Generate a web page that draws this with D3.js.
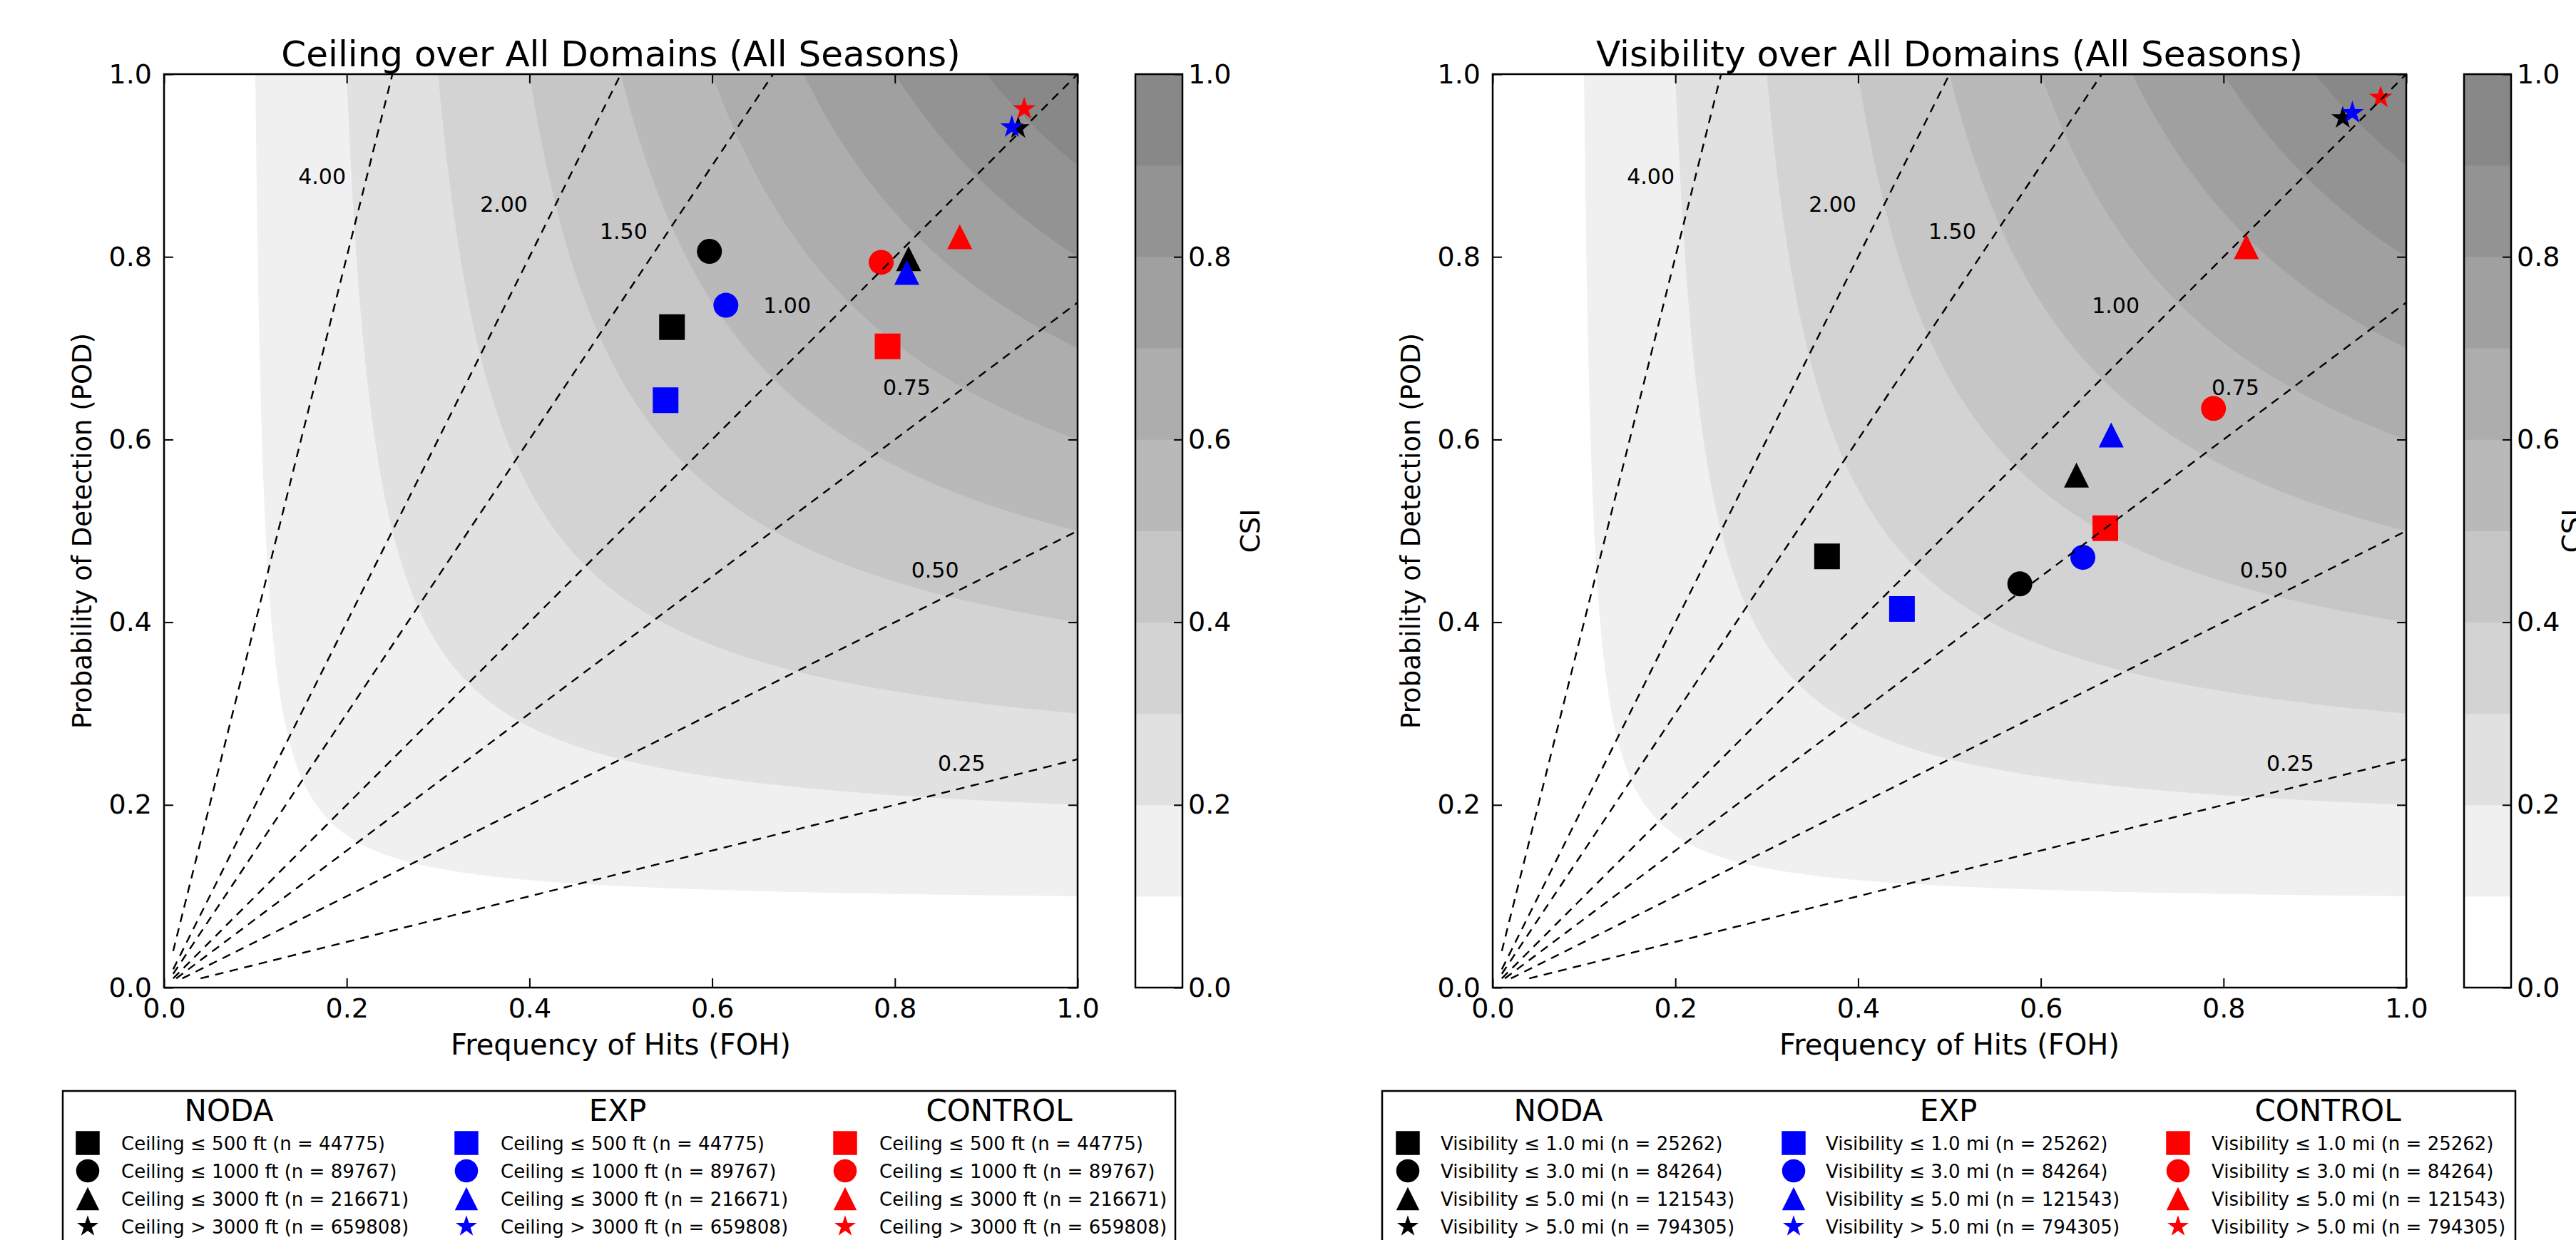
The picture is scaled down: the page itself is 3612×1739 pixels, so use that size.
<!DOCTYPE html>
<html><head><meta charset="utf-8">
<script src="https://cdn.jsdelivr.net/npm/d3@7"></script>
<style>
html,body{margin:0;padding:0;background:#fff;overflow:hidden;}
svg{display:block;font-family:"DejaVu Sans",sans-serif;}
</style></head><body>
<svg id="chart" width="3612" height="1739"></svg>
<script>
// ---------------- data ----------------
const groups = ["NODA", "EXP", "CONTROL"];
const shapes = ["square", "circle", "triangle", "star"];
const ceilingLabels = ["Ceiling \u2264 500 ft (n = 44775)", "Ceiling \u2264 1000 ft (n = 89767)", "Ceiling \u2264 3000 ft (n = 216671)", "Ceiling > 3000 ft (n = 659808)"];
const visibilityLabels = ["Visibility \u2264 1.0 mi (n = 25262)", "Visibility \u2264 3.0 mi (n = 84264)", "Visibility \u2264 5.0 mi (n = 121543)", "Visibility > 5.0 mi (n = 794305)"];

// Ceiling panel: FOH (x) and POD (y) per group, in shape order
const ceilNodaFOH = [0.556, 0.597, 0.815, 0.935];
const ceilNodaPOD = [0.723, 0.806, 0.798, 0.941];
const ceilExpFOH  = [0.549, 0.615, 0.813, 0.928];
const ceilExpPOD  = [0.643, 0.747, 0.783, 0.942];
const ceilCtrlFOH = [0.792, 0.785, 0.871, 0.9415];
const ceilCtrlPOD = [0.702, 0.794, 0.822, 0.962];

// Visibility panel
const visNodaFOH = [0.366, 0.577, 0.639, 0.9305];
const visNodaPOD = [0.472, 0.442, 0.561, 0.952];
const visExpFOH  = [0.448, 0.646, 0.677, 0.941];
const visExpPOD  = [0.4145, 0.471, 0.605, 0.9576];
const visCtrlFOH = [0.6706, 0.789, 0.825, 0.972];
const visCtrlPOD = [0.503, 0.634, 0.811, 0.9745];

const biasValues = [0.25, 0.5, 0.75, 1.0, 1.5, 2.0, 4.0];
const biasLabels = ["0.25", "0.50", "0.75", "1.00", "1.50", "2.00", "4.00"];
const csiLevels = [0.0, 0.1, 0.2, 0.3, 0.4, 0.5, 0.6, 0.7, 0.8, 0.9, 1.0];
const axisTicks = [0.0, 0.2, 0.4, 0.6, 0.8, 1.0];
const tickLabels = ["0.0", "0.2", "0.4", "0.6", "0.8", "1.0"];

// ---------------- styles / layout ----------------
const bandColors = ["#ffffff", "#f0f0f0", "#e1e1e1", "#d3d3d3", "#c6c6c6", "#b9b9b9", "#adadad", "#a0a0a0", "#939393", "#888888"];
const groupColors = ["#000000", "#0000ff", "#ff0000"];
const biasLabelPos = [[0.873, 0.246], [0.844, 0.457], [0.813, 0.657], [0.682, 0.747], [0.503, 0.828], [0.372, 0.858], [0.173, 0.888]];
const AX = {top: 104, size: 1281};
const CB = {w: 66};

const panels = [
  {title: "Ceiling over All Domains (All Seasons)", x0: 230, cbx: 1592, csiX: 1753, labels: ceilingLabels,
   foh: [ceilNodaFOH, ceilExpFOH, ceilCtrlFOH], pod: [ceilNodaPOD, ceilExpPOD, ceilCtrlPOD],
   legend: {x: 88, w: 1560, hx: [321, 866, 1401], mx: [123, 654, 1185], tx: [170, 702, 1233]}},
  {title: "Visibility over All Domains (All Seasons)", x0: 2093, cbx: 3455, csiX: 3606, labels: visibilityLabels,
   foh: [visNodaFOH, visExpFOH, visCtrlFOH], pod: [visNodaPOD, visExpPOD, visCtrlPOD],
   legend: {x: 1938, w: 1589, hx: [2185, 2732, 3264], mx: [1974, 2515, 3054], tx: [2020, 2560, 3101]}}
];

const svg = d3.select("#chart");
svg.append("rect").attr("width", 3612).attr("height", 1739).attr("fill", "#fff");

function markerPath(shape, s) {
  if (shape === "square") return d3.symbol(d3.symbolSquare, s * s)();
  if (shape === "circle") return d3.symbol(d3.symbolCircle, Math.PI * (s / 2) * (s / 2))();
  if (shape === "star") return d3.symbol(d3.symbolStar, (s / 2) * (s / 2) / 0.8908130915292852)();
  return `M0,${-s / 2}L${s / 2},${s / 2}L${-s / 2},${s / 2}Z`;
}
const markerSize = {square: 36, circle: 35, triangle: 35, star: 34};

// CSI grid for contourf
const N = 501;
const csiGrid = new Float64Array(N * N);
for (let j = 0; j < N; j++) {
  const pod = j / (N - 1);
  for (let i = 0; i < N; i++) {
    const sr = i / (N - 1);
    csiGrid[j * N + i] = (sr <= 0 || pod <= 0) ? 0 : 1 / (1 / sr + 1 / pod - 1);
  }
}
const contourSets = d3.contours().size([N, N]).thresholds(csiLevels.slice(1, 10))(csiGrid);

panels.forEach((p, pi) => {
  const x = d3.scaleLinear().domain([0, 1]).range([p.x0, p.x0 + AX.size]);
  const y = d3.scaleLinear().domain([0, 1]).range([AX.top + AX.size, AX.top]);
  const g = svg.append("g");

  const clipId = "clip" + pi;
  svg.append("defs").append("clipPath").attr("id", clipId)
    .append("rect").attr("x", p.x0).attr("y", AX.top).attr("width", AX.size).attr("height", AX.size);

  const plot = g.append("g").attr("clip-path", `url(#${clipId})`);
  plot.append("rect").attr("x", p.x0).attr("y", AX.top).attr("width", AX.size).attr("height", AX.size).attr("fill", bandColors[0]);
  const proj = d3.geoTransform({point: function (px, py) {
    this.stream.point(x((px - 0.5) / (N - 1)), y((py - 0.5) / (N - 1)));
  }});
  const path = d3.geoPath(proj);
  plot.selectAll("path.band").data(contourSets).join("path")
    .attr("class", "band").attr("d", path)
    .attr("fill", (d, i) => bandColors[i + 1]).attr("stroke", "none");

  // markers
  groups.forEach((gr, gi) => {
    shapes.forEach((sh, si) => {
      plot.append("path")
        .attr("d", markerPath(sh, markerSize[sh]))
        .attr("transform", `translate(${x(p.foh[gi][si])},${y(p.pod[gi][si])})`)
        .attr("fill", groupColors[gi]).attr("stroke", "none");
    });
  });

  // bias lines
  const line = d3.line().x(d => x(d[0])).y(d => y(d[1]));
  biasValues.forEach(b => {
    const start = b >= 1 ? [0.01, 0.01 * b] : [0.01 / b, 0.01];
    const end = b >= 1 ? [1 / b, 1] : [1, b];
    plot.append("path").attr("d", line([start, end]))
      .attr("fill", "none").attr("stroke", "#000").attr("stroke-width", 2.4)
      .attr("stroke-dasharray", "12,9");
  });
  biasLabels.forEach((lb, i) => {
    plot.append("text").attr("x", x(biasLabelPos[i][0])).attr("y", y(biasLabelPos[i][1]))
      .attr("dy", "0.36em").attr("text-anchor", "middle").attr("font-size", 30).attr("fill", "#000").text(lb);
  });

  // axes
  const fmt = (d) => tickLabels[axisTicks.indexOf(d)];
  const styleAxis = (sel, fs) => {
    sel.select(".domain").remove();
    sel.selectAll(".tick line").attr("stroke", "#000").attr("stroke-width", 2);
    sel.selectAll(".tick text").attr("font-size", fs).attr("fill", "#000").attr("font-family", "DejaVu Sans");
  };
  g.append("g").attr("transform", `translate(0,${AX.top + AX.size})`)
    .call(d3.axisBottom(x).tickValues(axisTicks).tickFormat(fmt).tickSizeInner(-13).tickSizeOuter(0).tickPadding(15))
    .call(s => styleAxis(s, 38));
  g.append("g").attr("transform", `translate(0,${AX.top})`)
    .call(d3.axisTop(x).tickValues(axisTicks).tickFormat("").tickSizeInner(-13).tickSizeOuter(0))
    .call(s => styleAxis(s, 38));
  g.append("g").attr("transform", `translate(${p.x0},0)`)
    .call(d3.axisLeft(y).tickValues(axisTicks).tickFormat(fmt).tickSizeInner(-13).tickSizeOuter(0).tickPadding(17))
    .call(s => styleAxis(s, 38));
  g.append("g").attr("transform", `translate(${p.x0 + AX.size},0)`)
    .call(d3.axisRight(y).tickValues(axisTicks).tickFormat("").tickSizeInner(-13).tickSizeOuter(0))
    .call(s => styleAxis(s, 38));
  g.append("rect").attr("x", p.x0).attr("y", AX.top).attr("width", AX.size).attr("height", AX.size)
    .attr("fill", "none").attr("stroke", "#000").attr("stroke-width", 2.5);

  g.append("text").attr("x", x(0.5)).attr("y", 93).attr("text-anchor", "middle").attr("font-size", 50).text(p.title);
  g.append("text").attr("x", x(0.5)).attr("y", 1479).attr("text-anchor", "middle").attr("font-size", 40).text("Frequency of Hits (FOH)");
  g.append("text").attr("transform", `translate(${p.x0 - 102},${y(0.5)}) rotate(-90)`).attr("text-anchor", "middle").attr("font-size", 37).text("Probability of Detection (POD)");

  // colorbar
  const cy = d3.scaleLinear().domain([0, 1]).range([AX.top + AX.size, AX.top]);
  const cb = g.append("g");
  cb.selectAll("rect.cbband").data(d3.range(10)).join("rect").attr("class", "cbband")
    .attr("x", p.cbx).attr("width", CB.w)
    .attr("y", i => cy(csiLevels[i + 1])).attr("height", i => cy(csiLevels[i]) - cy(csiLevels[i + 1]) + 0.5)
    .attr("fill", i => bandColors[i]);
  cb.append("g").attr("transform", `translate(${p.cbx + CB.w},0)`)
    .call(d3.axisRight(cy).tickValues(axisTicks).tickFormat(fmt).tickSizeInner(-12).tickSizeOuter(0).tickPadding(8))
    .call(s => styleAxis(s, 38));
  cb.append("rect").attr("x", p.cbx).attr("y", AX.top).attr("width", CB.w).attr("height", AX.size)
    .attr("fill", "none").attr("stroke", "#000").attr("stroke-width", 2.5);
  cb.append("text").attr("transform", `translate(${p.csiX + 13},${y(0.5)}) rotate(-90)`).attr("text-anchor", "middle").attr("font-size", 38).text("CSI");

  // legend
  const L = p.legend;
  const lg = g.append("g");
  lg.append("rect").attr("x", L.x).attr("y", 1530).attr("width", L.w).attr("height", 260)
    .attr("fill", "#fff").attr("stroke", "#000").attr("stroke-width", 2.5);
  const rowY = [1603, 1642, 1681, 1720];
  groups.forEach((gr, gi) => {
    lg.append("text").attr("x", L.hx[gi]).attr("y", 1572).attr("text-anchor", "middle").attr("font-size", 42).text(gr);
    shapes.forEach((sh, si) => {
      lg.append("path").attr("d", markerPath(sh, markerSize[sh] * 0.93))
        .attr("transform", `translate(${L.mx[gi]},${rowY[si]})`).attr("fill", groupColors[gi]);
      lg.append("text").attr("x", L.tx[gi]).attr("y", rowY[si] + 9.5).attr("font-size", 26).text(p.labels[si]);
    });
  });
});
</script>
</body></html>
